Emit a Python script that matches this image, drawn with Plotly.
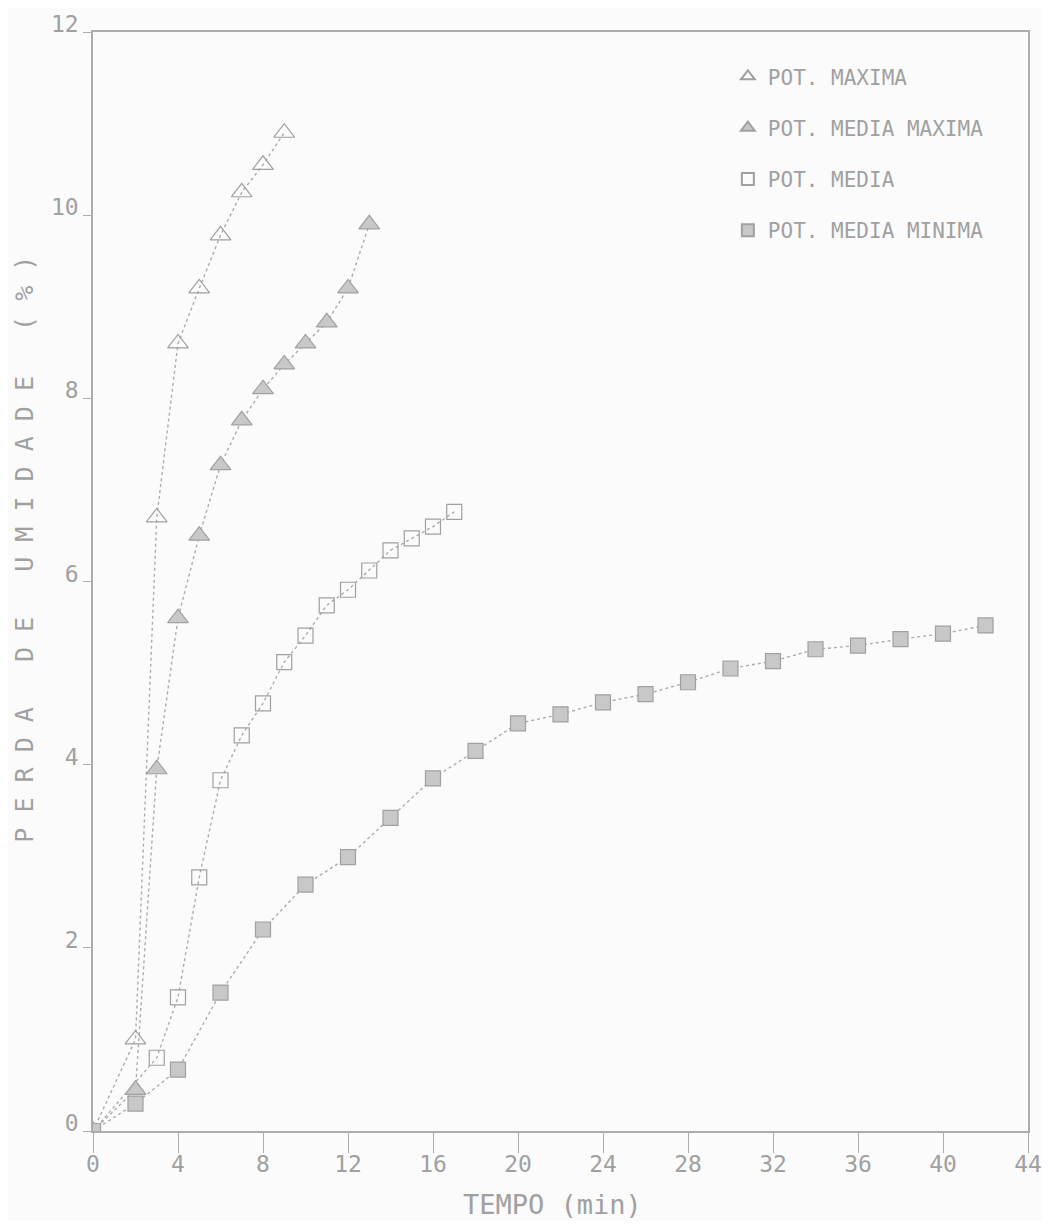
import plotly.graph_objects as go

# ---------------- data ----------------
x_max = [0, 2, 3, 4, 5, 6, 7, 8, 9]
y_max = [0, 1.0, 6.7, 8.6, 9.2, 9.78, 10.25, 10.55, 10.9]

x_med_max = [0, 2, 3, 4, 5, 6, 7, 8, 9, 10, 11, 12, 13]
y_med_max = [0, 0.45, 3.95, 5.6, 6.5, 7.27, 7.76, 8.1, 8.37, 8.6, 8.83, 9.2, 9.9]

x_med = [0, 3, 4, 5, 6, 7, 8, 9, 10, 11, 12, 13, 14, 15, 16, 17]
y_med = [0, 0.8, 1.46, 2.77, 3.83, 4.32, 4.67, 5.12, 5.41, 5.74, 5.91, 6.12, 6.34, 6.47, 6.6, 6.76]

x_med_min = [0, 2, 4, 6, 8, 10, 12, 14, 16, 18, 20, 22, 24, 26, 28, 30, 32, 34, 36, 38, 40, 42]
y_med_min = [0, 0.3, 0.67, 1.51, 2.2, 2.69, 2.99, 3.42, 3.85, 4.15, 4.45, 4.55, 4.68, 4.77, 4.9, 5.05, 5.13, 5.26, 5.3, 5.37, 5.43, 5.52]

names = ["POT. MAXIMA", "POT. MEDIA MAXIMA", "POT. MEDIA", "POT. MEDIA MINIMA"]

x_ticks = [0, 4, 8, 12, 16, 20, 24, 28, 32, 36, 40, 44]
y_ticks = [0, 2, 4, 6, 8, 10, 12]

x_title = "TEMPO (min)"
y_title = "PERDA DE UMIDADE (%)"

# ---------------- styling ----------------
GRAY = "#a0a0a0"
LINE = "#acacac"
FONT = "DejaVu Sans Mono"
BG = "#fbfbfb"

fig = go.Figure()

markers = [
    dict(symbol="triangle-up-open", size=18, color=GRAY, line=dict(width=1.2, color=GRAY)),
    dict(symbol="triangle-up", size=18, color="#c8c8c8", line=dict(width=1.2, color=GRAY)),
    dict(symbol="square-open", size=15, color=GRAY, line=dict(width=1.2, color=GRAY)),
    dict(symbol="square", size=15, color="#c8c8c8", line=dict(width=1.2, color=GRAY)),
]
data = [(x_max, y_max), (x_med_max, y_med_max), (x_med, y_med), (x_med_min, y_med_min)]

for i, ((xs, ys), nm, mk) in enumerate(zip(data, names, markers)):
    fig.add_trace(go.Scatter(
        x=xs, y=ys, name=nm, mode="lines+markers",
        line=dict(color=LINE, width=1.4, dash="dot"),
        marker=mk, showlegend=False,
    ))
# legend entries: markers only, as in the original
for i, (nm, mk) in enumerate(zip(names, markers)):
    fig.add_trace(go.Scatter(
        x=[None], y=[None], name=nm, mode="markers", marker=mk,
        legendgroup=f"g{i}", showlegend=True,
    ))

fig.update_layout(
    width=1034, height=1213,
    paper_bgcolor=BG, plot_bgcolor=BG,
    margin=dict(l=85, r=14, t=24, b=90, autoexpand=False),
    font=dict(family=FONT, color=GRAY, size=20),
    legend=dict(
        x=0.679, y=0.978, xanchor="left", yanchor="top",
        bgcolor="rgba(0,0,0,0)", font=dict(family=FONT, size=21, color=GRAY),
        tracegroupgap=21, itemsizing="constant",
    ),
    xaxis=dict(
        range=[0, 44], tickvals=x_ticks, ticktext=[str(v) for v in x_ticks],
        showgrid=False, zeroline=False, showline=True, linecolor=LINE, linewidth=1.5,
        mirror=True, ticks="outside", ticklen=20, tickcolor=LINE, tickwidth=1,
        tickfont=dict(family=FONT, size=23, color=GRAY), ticklabelstandoff=-8,
        ticklabeloverflow="allow", automargin=False,
    ),
    yaxis=dict(
        range=[0, 12], tickvals=y_ticks, ticktext=[str(v) for v in y_ticks],
        showgrid=False, zeroline=False, showline=True, linecolor=LINE, linewidth=1.5,
        mirror=True, ticks="outside", ticklen=8, tickcolor=LINE, tickwidth=1,
        tickfont=dict(family=FONT, size=23, color=GRAY), ticklabelshift=-8,
        ticklabeloverflow="allow", automargin=False,
    ),
)

fig.add_annotation(
    text=x_title, xref="paper", yref="paper", x=0.491, y=-0.0673,
    xanchor="center", yanchor="middle", showarrow=False,
    font=dict(family=FONT, size=27, color=GRAY),
)
spaced = "\u00a0".join(list(y_title.replace(" ", "\u00a0")))
fig.add_annotation(
    text=spaced, xref="paper", yref="paper", x=-0.0727, y=0.529,
    xanchor="center", yanchor="middle", showarrow=False, textangle=-90,
    font=dict(family=FONT, size=25, color=GRAY),
)

fig.write_html("out.html")
